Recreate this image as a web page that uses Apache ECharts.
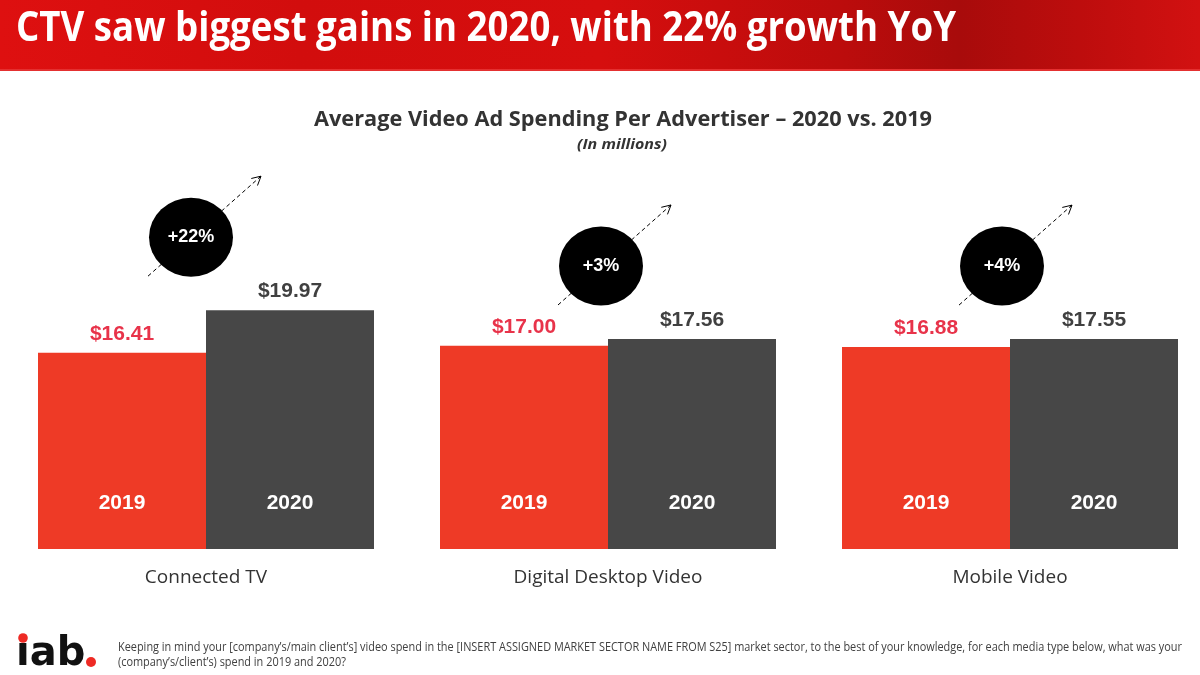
<!DOCTYPE html>
<html>
<head>
<meta charset="utf-8">
<script src="https://cdn.jsdelivr.net/npm/echarts@6/dist/echarts.min.js"></script>
<style>html,body{margin:0;padding:0;background:#fff;}#c{width:1200px;height:675px;}</style>
</head>
<body>
<div id="c"></div>
<script>
// ---- data ----
const categories = ['Connected TV', 'Digital Desktop Video', 'Mobile Video'];
const years = ['2019', '2020'];
const spend2019 = [16.41, 17.00, 16.88];
const spend2020 = [19.97, 17.56, 17.55];
const growthLabels = ['+22%', '+3%', '+4%'];
const headline = 'CTV saw biggest gains in 2020, with 22% growth YoY';
const chartTitle = 'Average Video Ad Spending Per Advertiser \u2013 2020 vs. 2019';
const chartSubtitle = '(In millions)';
const footnoteLines = [
  'Keeping in mind your [company\u2019s/main client\u2019s] video spend in the [INSERT ASSIGNED MARKET SECTOR NAME FROM S25] market sector, to the best of your knowledge, for each media type below, what was your',
  '(company\u2019s/client\u2019s) spend in 2019 and 2020?'
];

// ---- styles ----
const RED = '#EE3A26', DARK = '#474747';
const RED_LABEL = '#E8334A', DARK_LABEL = '#404040';
const BAR_W = 168;

const chart = echarts.init(document.getElementById('c'), null, {renderer: 'canvas'});

const valueLabel = (color) => ({
  show: true, position: 'top', distance: 8,
  formatter: (p) => '$' + p.value.toFixed(2),
  color: color, fontFamily: '"Liberation Sans", Arial, sans-serif', fontWeight: 'bold', fontSize: 21
});
const yearLabel = (txt) => ({
  show: true, position: 'insideBottom', distance: 35,
  formatter: () => txt,
  color: '#fff', fontFamily: '"Liberation Sans", Arial, sans-serif', fontWeight: 'bold', fontSize: 21
});

chart.setOption({
  animation: false,
  backgroundColor: '#fff',
  grid: {left: 5, width: 1206, top: 250, bottom: 126, outerBoundsMode: 'none', containLabel: false},
  xAxis: [
    {
      type: 'category', data: categories, gridIndex: 0,
      axisLine: {show: false}, axisTick: {show: false}, splitLine: {show: false},
      axisLabel: {margin: 19, color: '#333', fontSize: 19, fontFamily: '"Open Sans", sans-serif'}
    },
    {type: 'category', data: categories, gridIndex: 0, show: false}
  ],
  yAxis: {type: 'value', min: 0, max: 25, show: false, splitLine: {show: false}},
  series: [
    {name: years[0], type: 'bar', xAxisIndex: 0, data: spend2019, barWidth: BAR_W, barGap: '0%',
     itemStyle: {color: RED}, label: valueLabel(RED_LABEL)},
    {name: years[1], type: 'bar', xAxisIndex: 0, data: spend2020, barWidth: BAR_W, barGap: '0%',
     itemStyle: {color: DARK}, label: valueLabel(DARK_LABEL)},
    {name: years[0] + ' label', type: 'bar', xAxisIndex: 1, data: spend2019, barWidth: BAR_W, barGap: '0%',
     itemStyle: {color: 'rgba(0,0,0,0)'}, label: yearLabel(years[0]), silent: true, z: 5},
    {name: years[1] + ' label', type: 'bar', xAxisIndex: 1, data: spend2020, barWidth: BAR_W, barGap: '0%',
     itemStyle: {color: 'rgba(0,0,0,0)'}, label: yearLabel(years[1]), silent: true, z: 5}
  ]
});

// ---- text measuring helper for fitting widths ----
const mctx = document.createElement('canvas').getContext('2d');
function measure(text, font) { mctx.font = font; return mctx.measureText(text).width; }

const graphics = [];

// header band
graphics.push({
  type: 'rect', shape: {x: 0, y: 0, width: 1200, height: 71}, z: 0, silent: true,
  style: {fill: new echarts.graphic.LinearGradient(0, 0, 1, 0, [
    {offset: 0, color: '#DE1010'}, {offset: 0.25, color: '#D20D0D'}, {offset: 0.5, color: '#D60E0E'},
    {offset: 0.7, color: '#BC0C0C'}, {offset: 0.8, color: '#A80B0B'}, {offset: 0.9, color: '#BD0D0D'},
    {offset: 1, color: '#D21111'}])}
});
graphics.push({type: 'rect', shape: {x: 0, y: 69, width: 1200, height: 2}, silent: true, style: {fill: '#E43030'}});

const headFont = 'bold 41px "Open Sans"';
const headScale = 940 / measure(headline, headFont);
graphics.push({type: 'text', x: 16, y: 29, scaleX: headScale, silent: true, z: 10,
  style: {text: headline, fill: '#fff', fontFamily: 'Open Sans', fontWeight: 'bold', fontSize: 41, align: 'left', verticalAlign: 'middle'}});

const titleFont = 'bold 21px "Open Sans"';
const titleScale = 618 / measure(chartTitle, titleFont);
graphics.push({type: 'text', x: 623, y: 120, scaleX: titleScale, silent: true,
  style: {text: chartTitle, fill: '#333', fontFamily: 'Open Sans', fontWeight: 'bold', fontSize: 21, align: 'center', verticalAlign: 'middle'}});
const subFont = 'italic bold 15px "Open Sans"';
const subScale = 90 / measure(chartSubtitle, subFont);
graphics.push({type: 'text', x: 622, y: 145, scaleX: subScale, silent: true,
  style: {text: chartSubtitle, fill: '#333', fontFamily: 'Open Sans', fontWeight: 'bold', fontStyle: 'italic', fontSize: 15, align: 'center', verticalAlign: 'middle'}});

// footnote
const footFont = '12px "Open Sans"';
const footScale = 1064 / measure(footnoteLines[0], footFont);
footnoteLines.forEach((line, i) => {
  graphics.push({type: 'text', x: 118, y: 648 + i * 15, scaleX: footScale, silent: true,
    style: {text: line, fill: '#404040', fontFamily: 'Open Sans', fontSize: 12, align: 'left', verticalAlign: 'middle'}});
});

// iab logo
graphics.push({type: 'text', x: 16, y: 675, silent: true,
  style: {text: '\u0131ab', fill: '#111', fontFamily: 'DejaVu Sans', fontWeight: 'bold', fontSize: 40, align: 'left', verticalAlign: 'bottom'}});
graphics.push({type: 'circle', shape: {cx: 23, cy: 638, r: 4.8}, silent: true, style: {fill: '#EE2A24'}});
graphics.push({type: 'circle', shape: {cx: 91, cy: 662, r: 5}, silent: true, style: {fill: '#EE2A24'}});

// growth annotations, anchored to the 2020 bar tops
const circleDx = [-15, -7, -8];
categories.forEach((c, i) => {
  const cxCat = chart.convertToPixel({xAxisIndex: 0}, i);
  const topY = chart.convertToPixel({yAxisIndex: 0}, spend2020[i]);
  const cx = cxCat + circleDx[i], cy = topY - 73;
  const x1 = cx - 43, y1 = cy + 39, x2 = cx + 70, y2 = cy - 61;
  const len = Math.hypot(x2 - x1, y2 - y1);
  const ux = (x2 - x1) / len, uy = (y2 - y1) / len;
  const hl = 10, ang = 28 * Math.PI / 180;
  const rot = (a) => [x2 - hl * (ux * Math.cos(a) - uy * Math.sin(a)), y2 - hl * (ux * Math.sin(a) + uy * Math.cos(a))];
  graphics.push({type: 'line', shape: {x1, y1, x2, y2}, silent: true, z: 20,
    style: {stroke: '#000', lineWidth: 1, lineDash: [4, 3]}});
  graphics.push({type: 'polyline', shape: {points: [rot(ang), [x2, y2], rot(-ang)]}, silent: true, z: 20,
    style: {stroke: '#000', lineWidth: 1, fill: null}});
  graphics.push({type: 'circle', x: cx, y: cy, scaleY: 39.5 / 42, shape: {cx: 0, cy: 0, r: 42}, silent: true, z: 21,
    style: {fill: '#000'}});
  graphics.push({type: 'text', x: cx, y: cy, silent: true, z: 22,
    style: {text: growthLabels[i], fill: '#fff', fontFamily: 'Liberation Sans', fontWeight: 'bold', fontSize: 18, align: 'center', verticalAlign: 'middle'}});
});

chart.setOption({graphic: {elements: graphics}});
</script>
</body>
</html>
